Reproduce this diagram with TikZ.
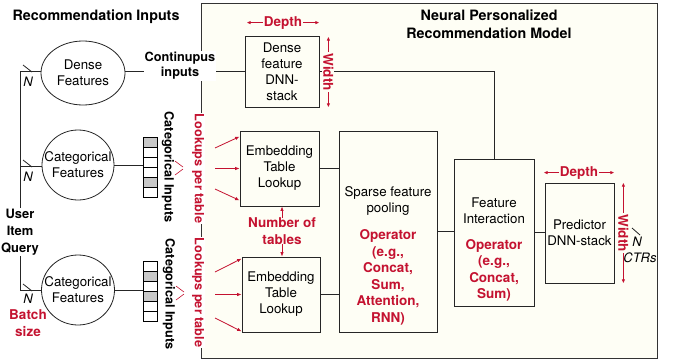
\documentclass[tikz,border=0pt]{standalone}
\usepackage{fontspec}
\setmainfont{TeX Gyre Heros}
\usetikzlibrary{shapes.geometric,arrows.meta,shadows,calc}
\definecolor{cream}{RGB}{254,254,245}
\definecolor{darkred}{RGB}{196,18,48}
\definecolor{cellgray}{RGB}{200,200,200}
\begin{document}
\begin{tikzpicture}[x=1pt,y=-1pt,
  every node/.style={font=\fontsize{13.3}{16}\selectfont, inner sep=0pt},
  line/.style={line width=0.8pt, draw=black!85},
  shad/.style={drop shadow={shadow xshift=1.2pt, shadow yshift=-1.2pt, fill=black!40, opacity=0.6}},
  box/.style={draw=black!85, line width=0.8pt, fill=cream, rectangle, shad, align=center},
  feat/.style={draw=black!85, ellipse, line width=0.8pt, fill=white},
  ftext/.style={align=center},
  redlbl/.style={text=darkred, font=\bfseries\fontsize{13.5}{16.5}\selectfont, align=center},
  redrot/.style={text=darkred, font=\bfseries\fontsize{12.7}{15}\selectfont, rotate=-90, fill=white, inner sep=1pt},
  blackrot/.style={font=\bfseries\fontsize{12.7}{15}\selectfont, rotate=-90},
  blk/.style={font=\bfseries\fontsize{12.9}{17}\selectfont, align=center},
  title/.style={font=\bfseries\fontsize{14.3}{18}\selectfont, align=center},
  ital/.style={font=\itshape\fontsize{13}{15}\selectfont},
  redarr/.style={draw=darkred, line width=0.8pt, -{Latex[length=4.5pt,width=3.5pt]}},
  dimarr/.style={draw=darkred, line width=0.8pt, {Latex[length=4pt,width=3.5pt]}-{Latex[length=4pt,width=3.5pt]}},
  fan/.style={draw=darkred, line width=0.6pt}
]
\useasboundingbox (0,0) rectangle (673,362);
\fill[white] (0,0) rectangle (673,362);

% container
\draw[line width=0.8pt, draw=black!80, fill=cream, shad] (201,3) rectangle (657,358);
\node[title] (ttl) at (489,24) {Neural Personalized\\Recommendation Model};
\node[title] (inp) at (96,17) {Recommendation Inputs};

% feature ellipses
\node[feat, minimum width=84pt, minimum height=64pt] (dense) at (83,73) {};
\node[ftext] (denset) at (dense) {Dense\\Features};
\node[feat, minimum width=72pt, minimum height=70pt] (cat1) at (78,165) {};
\node[ftext] (cat1t) at (cat1) {Categorical\\Features};
\node[feat, minimum width=73pt, minimum height=70pt] (cat2) at (78,290) {};
\node[ftext] (cat2t) at (cat2) {Categorical\\Features};

% bus
\coordinate (bus1) at (20,71);
\coordinate (bus2) at (20,166);
\coordinate (bus3) at (20,290);
\draw[line] (bus1) -- (bus3);
\draw[line] (bus1) -- (bus1 -| dense.west);
\draw[line] (bus2) -- (bus2 -| cat1.west);
\draw[line] (bus3) -- (bus3 -| cat2.west);
\foreach \y in {71,166,290} {
  \draw[line] (23,{\y-6}) -- (32,{\y+1});
}
\node[ital] (n1) at (28,82) {N};
\node[ital] (n2) at (28,177) {N};
\node[ital] (n3) at (28,298.5) {N};
\node[blk, fill=white, inner sep=1pt] (uiq) at (20,232) {User\\Item\\Query};
\node[redlbl] (bs) at (28,323) {Batch\\size};

% categorical input stacks
\node[minimum width=14pt, minimum height=60pt] (stk1) at (150,167) {};
\node[minimum width=14pt, minimum height=60pt] (stk2) at (150,291) {};
\foreach \i/\c in {0/cellgray,1/white,2/white,3/white,4/cellgray,5/white} {
  \draw[line width=0.6pt, fill=\c] (143,{137+10*\i}) rectangle ++(14,10);
}
\foreach \i/\c in {0/white,1/cellgray,2/white,3/cellgray,4/white,5/white} {
  \draw[line width=0.6pt, fill=\c] (143,{261+10*\i}) rectangle ++(14,10);
}
\draw[line] (cat1.east) -- (cat1.east -| stk1.west);
\draw[line] (cat2.east) -- (cat2.east -| stk2.west);
\node[blackrot] (ci1) at (168,167) {Categorical Inputs};
\node[blackrot] (ci2) at (169,294) {Categorical Inputs};
\draw[fan] (175,161) -- (183,167) (175,175) -- (183,169);
\draw[fan] (176,286) -- (184,292) (176,300) -- (184,294);

% model boxes
\node[box, minimum width=74pt, minimum height=71pt] (dnn) at (282,71.5) {Dense\\feature\\DNN-\\stack};
\node[box, minimum width=79pt, minimum height=75pt] (emb1) at (279.5,168.5) {Embedding\\Table\\Lookup};
\node[box, minimum width=78pt, minimum height=75pt] (emb2) at (281,294.5) {Embedding\\Table\\Lookup};
\node[box, minimum width=98pt, minimum height=201pt] (sp) at (388,231.5) {};
\node[ftext] (spt) at (388,201) {Sparse feature\\pooling};
\node[redlbl] (spo) at (388,277.5) {Operator\\(e.g.,\\Concat,\\Sum,\\Attention,\\RNN)};
\node[box, minimum width=80pt, minimum height=147pt] (fi) at (494,232.5) {};
\node[ftext] (fit) at (494,211) {Feature\\Interaction};
\node[redlbl] (fio) at (494,270.5) {Operator\\(e.g.,\\Concat,\\Sum)};
\node[box, minimum width=69pt, minimum height=100pt] (pred) at (579.5,233) {Predictor\\DNN-stack};

% connectors
\draw[line] (dense.east |- dnn.west) -- (dnn.west);
\node[font=\bfseries\fontsize{12.7}{15}\selectfont, align=center, fill=white, inner sep=1pt] (cont) at (180,66) {Continupus\\inputs};
\draw[line] (dnn.east) -| (fi.north);
\draw[line] (emb1.east) -- (emb1.east -| sp.west);
\draw[line] (emb2.east) -- (emb2.east -| sp.west);
\draw[line] (sp.east) -- (sp.east -| fi.west);
\draw[line] (fi.east) -- (fi.east -| pred.west);

% lookups
\node[redrot] (lpt1) at (198,168.5) {Lookups per table};
\node[redrot] (lpt2) at (198,292.5) {Lookups per table};
\coordinate (a11) at (215,148);
\coordinate (a12) at (215,168.5);
\coordinate (a13) at (215,189);
\coordinate (a21) at (215,272);
\coordinate (a22) at (215,294.5);
\coordinate (a23) at (215,318);
\draw[redarr] (a11) -- ($(emb1.north west)+(0,6)$);
\draw[redarr] (a12) -- (emb1.west);
\draw[redarr] (a13) -- ($(emb1.south west)+(0,-6)$);
\draw[redarr] (a21) -- ($(emb2.north west)+(0,2)$);
\draw[redarr] (a22) -- (emb2.west);
\draw[redarr] (a23) -- ($(emb2.south west)+(0,-1)$);

\node[redlbl] (ntab) at (282,231) {Number of\\tables};
\draw[redarr] (ntab.north) -- (ntab.north |- emb1.south);
\draw[redarr] (ntab.south) -- (ntab.south |- emb2.north);

% dimensions
\draw[dimarr] ($(dnn.north west)+(2,-13)$) -- ($(dnn.north east)+(0,-13)$)
  node[midway, redlbl, fill=cream, inner sep=1pt] (dep1) {Depth};
\draw[dimarr] ($(dnn.north east)+(9,1)$) -- ($(dnn.south east)+(9,0)$)
  node[midway, redlbl, rotate=-90, fill=cream, inner sep=1pt] (wid1) {Width};
\draw[dimarr] ($(pred.north west)+(-1,-10)$) -- ($(pred.north east)+(0,-10)$)
  node[midway, redlbl, fill=cream, inner sep=1pt] (dep2) {Depth};
\draw[dimarr] ($(pred.north east)+(9,0)$) -- ($(pred.south east)+(9,0)$)
  node[midway, redlbl, rotate=-90, fill=cream, inner sep=1pt] (wid2) {Width};

% output
\draw[line] (632,228) -- (640,235);
\node[ital] (nout) at (637,242) {N};
\node[ital] (ctrs) at (640,258) {CTRs};
\end{tikzpicture}
\end{document}
